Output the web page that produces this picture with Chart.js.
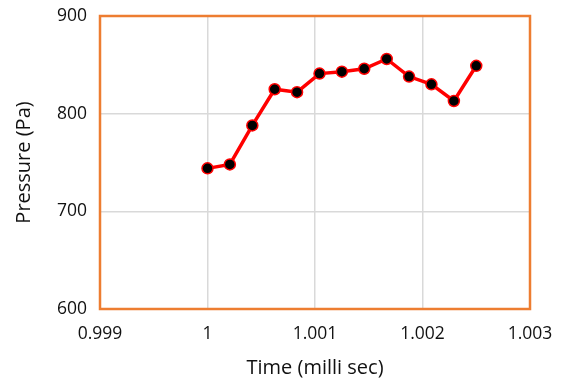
<!DOCTYPE html>
<html>
<head>
<meta charset="utf-8">
<script src="https://cdn.jsdelivr.net/npm/chart.js@4/dist/chart.umd.min.js"></script>
<style>
  html, body { margin: 0; padding: 0; background: #fff; }
  #wrap { width: 571px; height: 384px; }
</style>
</head>
<body>
<div id="wrap"><canvas id="pressureChart"></canvas></div>
<script>
// time samples (milli sec) and measured pressure (Pa)
const timeMs = [1.0, 1.000208, 1.000417, 1.000625, 1.000833, 1.001042, 1.00125,
                1.001458, 1.001667, 1.001875, 1.002083, 1.002292, 1.0025];
const pressurePa = [744, 748, 788, 825, 822, 841, 843, 846, 856, 838, 830, 813, 849];

const xTicks = [0.999, 1, 1.001, 1.002, 1.003];
const yTicks = [600, 700, 800, 900];

const FONT = '"Open Sans", Lato, sans-serif';
const TEXT = '#111';

// orange frame around the plot area
const plotFrame = {
  id: 'plotFrame',
  afterDatasetsDraw(chart) {
    const a = chart.chartArea;
    const ctx = chart.ctx;
    ctx.save();
    ctx.strokeStyle = '#ED7D31';
    ctx.lineWidth = 2.5;
    ctx.strokeRect(a.left, a.top, a.right - a.left, a.bottom - a.top);
    ctx.restore();
  }
};

new Chart(document.getElementById('pressureChart'), {
  type: 'scatter',
  data: {
    datasets: [{
      data: timeMs.map((t, i) => ({ x: t, y: pressurePa[i] })),
      showLine: true,
      borderColor: '#FF0000',
      borderWidth: 3.5,
      pointBackgroundColor: '#000000',
      pointBorderColor: '#FF0000',
      pointBorderWidth: 1.5,
      pointRadius: 5.5
    }]
  },
  options: {
    responsive: true,
    maintainAspectRatio: false,
    animation: false,
    layout: { padding: { left: 0, right: 41, top: 16, bottom: 0 } },
    plugins: { legend: { display: false }, tooltip: { enabled: false } },
    scales: {
      x: {
        type: 'linear',
        min: 0.999,
        max: 1.003,
        afterBuildTicks: s => { s.ticks = xTicks.map(v => ({ value: v })); },
        afterFit: s => { s.height = 75; s.paddingLeft = 0; s.paddingRight = 0; },
        grid: { color: '#D9D9D9', lineWidth: 1.5, drawTicks: false },
        border: { display: false },
        ticks: {
          color: TEXT,
          font: { family: FONT, size: 17.5 },
          padding: 15,
          maxRotation: 0,
          callback: v => String(+v.toFixed(3))
        },
        title: {
          display: true,
          text: 'Time (milli sec)',
          color: TEXT,
          font: { family: FONT, size: 20 },
          padding: { top: 0, bottom: 4 }
        }
      },
      y: {
        min: 600,
        max: 900,
        afterBuildTicks: s => { s.ticks = yTicks.map(v => ({ value: v })); },
        afterFit: s => { s.width = 100; s.paddingTop = 0; s.paddingBottom = 0; },
        grid: { color: '#D9D9D9', lineWidth: 1.5, drawTicks: false },
        border: { display: false },
        ticks: {
          color: TEXT,
          font: { family: FONT, size: 17.5 },
          padding: 13
        },
        title: {
          display: true,
          text: 'Pressure (Pa)',
          color: TEXT,
          font: { family: FONT, size: 20 },
          padding: { top: 12, bottom: 0 }
        }
      }
    }
  },
  plugins: [plotFrame]
});
</script>
</body>
</html>
